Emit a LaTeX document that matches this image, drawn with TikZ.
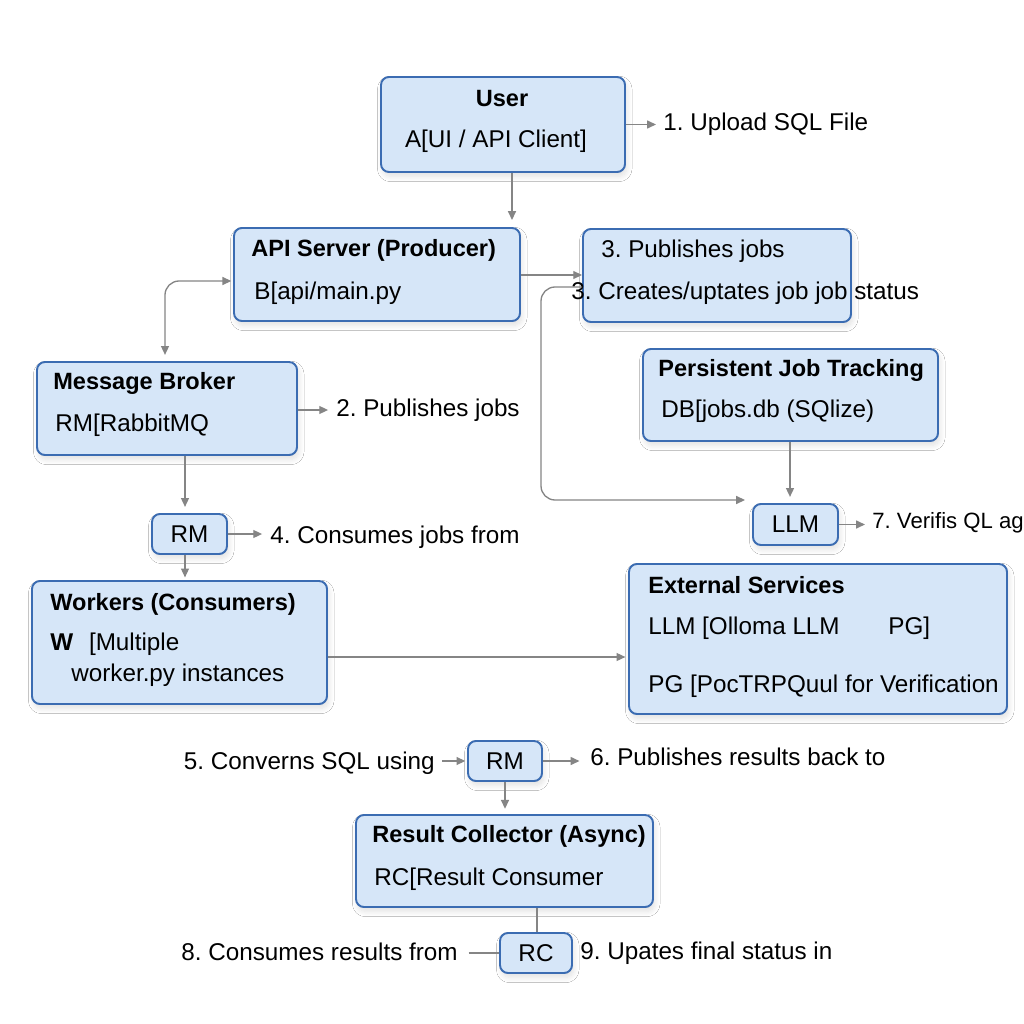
\documentclass[tikz,border=0pt]{standalone}
\usepackage{fontspec}
\setmainfont{Liberation Sans}
\usetikzlibrary{arrows.meta,fit,shadows.blur}
\definecolor{boxfill}{HTML}{D6E6F8}
\definecolor{boxline}{HTML}{3B6CB2}
\definecolor{conn}{HTML}{858585}
\frenchspacing
\begin{document}
\begin{tikzpicture}[x=0.02cm,y=-0.02cm,
  box/.style={draw=boxline, line width=1.1pt, fill=boxfill, rounded corners=4.5pt, inner sep=0pt,
    blur shadow={shadow xshift=1pt, shadow yshift=-2.5pt, shadow opacity=12, shadow blur radius=3pt, shadow blur steps=8}},
  sbox/.style={box, font=\fontsize{13.8}{16}\selectfont},
  txt/.style={anchor=west, inner sep=0pt, font=\fontsize{13.8}{16}\selectfont},
  ttl/.style={anchor=west, inner sep=0pt, font=\fontsize{13.4}{16}\selectfont\bfseries},
  tip/.tip={Triangle[length=5pt,width=4.5pt]},
  arr/.style={draw=conn, line width=0.75pt, -tip},
  ln/.style={draw=conn, line width=0.75pt}]
\useasboundingbox (0,0) rectangle (1024,1024);
\fill[white] (0,0) rectangle (1024,1024);

% boxes
\node[box, fit={(381,77)(625,172)}] (user) {};
\node[box, fit={(234,228)(520,321)}] (api) {};
\node[box, fit={(583,229)(851,322)}] (pub) {};
\node[box, fit={(37,362)(297,455)}] (mb) {};
\node[box, fit={(643,349)(938,441)}] (db) {};
\node[box, fit={(32,581)(327,704)}] (work) {};
\node[box, fit={(629,564)(1007,714)}] (ext) {};
\node[box, fit={(356,815)(653,907)}] (rc) {};
\node[sbox, minimum width=1.5cm, minimum height=0.8cm] (rm1) at (189.5,534) {RM};
\node[sbox, minimum width=1.7cm, minimum height=0.82cm] (llm) at (795.5,524.5) {LLM};
\node[sbox, minimum width=1.48cm, minimum height=0.8cm] (rm2) at (505,761) {RM};
\node[sbox, minimum width=1.44cm, minimum height=0.8cm] (rcs) at (536,953) {RC};

% box texts
\node[ttl, anchor=center] (userT) at (502,99) {User};
\node[txt, anchor=center] (userL) at (496,141) {A[UI / API Client]};
\node[ttl] (apiT) at (251,250) {API Server (Producer)};
\node[txt] (apiL) at (254,293) {B[api/main.py};
\node[txt] (pubL) at (601,251) {3. Publishes jobs};
\node[txt] (pubL2) at (571,293) {3. Creates/uptates job job status};
\node[ttl] (mbT) at (53,383) {Message Broker};
\node[txt] (mbL) at (55,425) {RM[RabbitMQ};
\node[ttl] (dbT) at (658,370) {Persistent Job Tracking};
\node[txt] (dbL) at (661,411) {DB[jobs.db (SQlize)};
\node[ttl] (workT) at (50,604) {Workers (Consumers)};
\node[txt] (workL) at (50,644) {\textbf{W}\hspace{9pt}[Multiple};
\node[txt] (workL2) at (71,675) {worker.py instances};
\node[ttl] (extT) at (648,585) {External Services};
\node[txt] (extL) at (648,628) {LLM [Olloma LLM};
\node[txt] (extL2) at (888,628) {PG]};
\node[txt] (extL3) at (648,686) {PG [PocTRPQuul for Verification};
\node[ttl] (rcT) at (372,836) {Result Collector (Async)};
\node[txt] (rcL) at (374,879) {RC[Result Consumer};

% free labels
\node[txt] (t1) at (663,124) {1. Upload SQL File};
\node[txt] (t2) at (336,410) {2. Publishes jobs};
\node[txt] (t4) at (270,537) {4. Consumes jobs from};
\node[txt, font=\fontsize{12.6}{15}\selectfont] (t7) at (872,523) {7. Verifis QL ag};
\node[txt, anchor=east] (t5) at (435,763) {5. Converns SQL using};
\node[txt] (t6) at (590,757) {6. Publishes results back to};
\node[txt, anchor=east] (t8) at (458,952) {8. Consumes results from};
\node[txt] (t9) at (580,953) {9. Upates final status in};

% helper coordinates
\coordinate (x512) at (512,0);
\coordinate (y275) at (0,275);
\coordinate (y287) at (0,287);
\coordinate (y281) at (0,281);
\coordinate (k1) at (541,287);
\coordinate (k2) at (541,500);
\coordinate (k3) at (165,281);
\coordinate (y500) at (0,500);
\coordinate (x185) at (185,0);
\coordinate (y410) at (0,410);
\coordinate (y657) at (0,657);
\coordinate (x790) at (790,0);
\coordinate (x537) at (537,0);

% connectors
\draw[arr, shorten >=4pt] (user.east) -- (t1.west |- user.east);
\draw[arr, shorten >=4pt] (user.south -| x512) -- (api.north -| x512);
\draw[arr] (api.east |- y275) -- (pub.west |- y275);
\draw[arr, rounded corners=8pt, shorten >=4pt] (pub.west |- y287) -- (k1) -- (k2) -- (llm.west |- y500);
\draw[draw=conn, line width=0.75pt, tip-tip, rounded corners=8pt, shorten <=1pt, shorten >=3.5pt] (api.west |- y281) -- (k3) -- (mb.north -| k3);
\draw[arr, shorten >=4.5pt] (mb.east |- y410) -- (t2.west |- y410);
\draw[arr, shorten >=3.5pt] (mb.south -| x185) -- (rm1.north -| x185);
\draw[arr, shorten >=4.5pt] (rm1.east) -- (t4.west |- rm1.east);
\draw[arr, shorten >=1.5pt] (rm1.south -| x185) -- (work.north -| x185);
\draw[arr, shorten >=1.5pt] (work.east |- y657) -- (ext.west |- y657);
\draw[arr, shorten >=3.5pt] (db.south -| x790) -- (llm.north -| x790);
\draw[arr, shorten >=4pt] (llm.east) -- (t7.west |- llm.east);
\draw[arr, shorten <=4pt, shorten >=1pt] (t5.east |- rm2.west) -- (rm2.west);
\draw[arr, shorten >=6pt] (rm2.east) -- (t6.west |- rm2.east);
\draw[arr, shorten >=3pt] (rm2.south) -- (rc.north -| rm2.south);
\draw[ln] (rc.south -| x537) -- (rcs.north -| x537);
\draw[ln, shorten <=6pt] (t8.east |- rcs.west) -- (rcs.west);
\end{tikzpicture}
\end{document}
